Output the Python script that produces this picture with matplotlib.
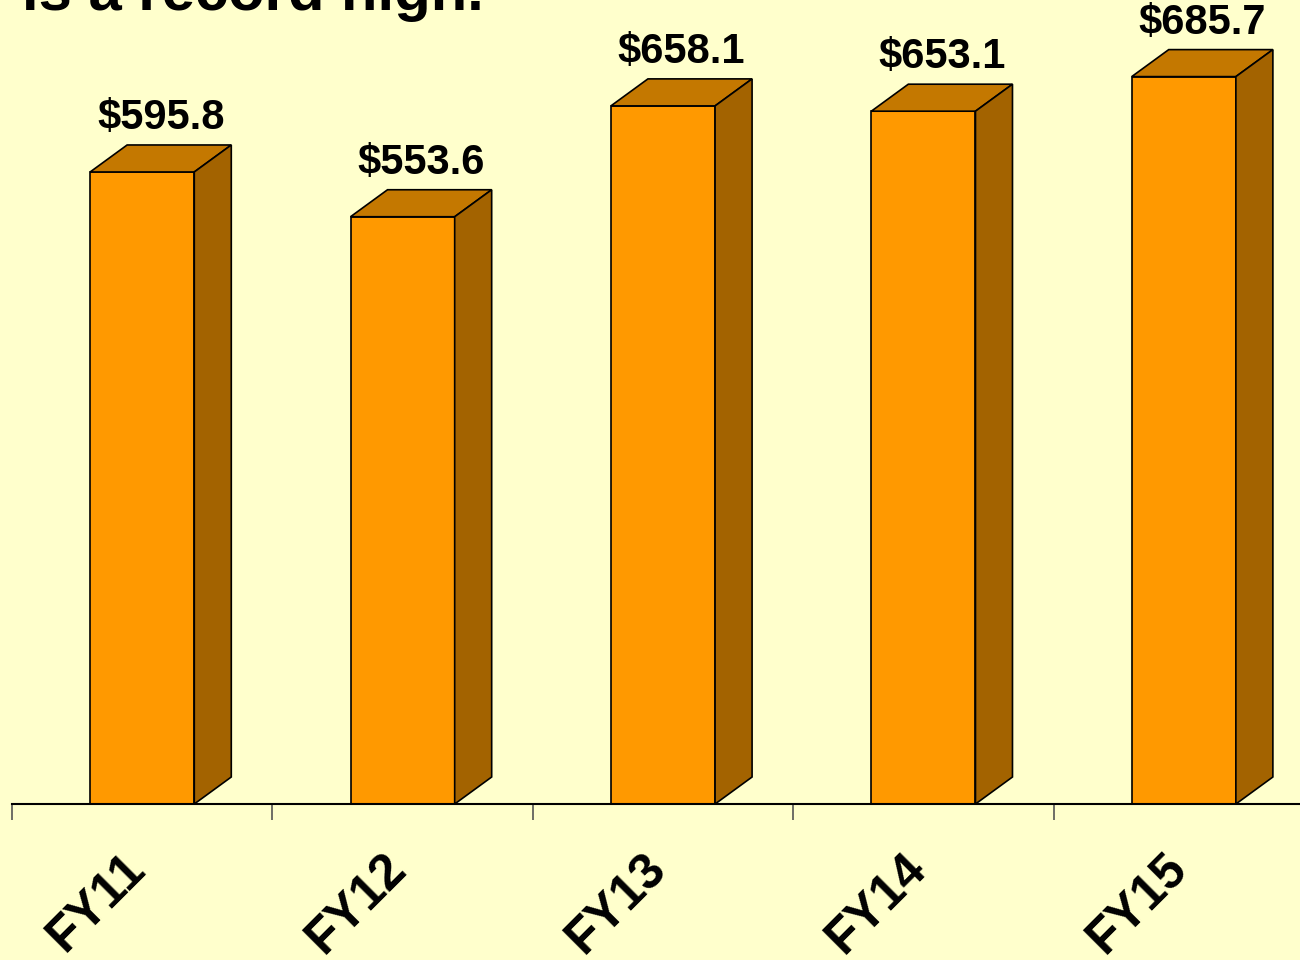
import matplotlib.pyplot as plt
from matplotlib.patches import Polygon
from matplotlib.transforms import ScaledTranslation

# data
years = ['FY11', 'FY12', 'FY13', 'FY14', 'FY15']
values = [595.8, 553.6, 658.1, 653.1, 685.7]
labels = ['$595.8', '$553.6', '$658.1', '$653.1', '$685.7']

plt.rcParams['font.family'] = ['Liberation Sans', 'DejaVu Sans']

bg = '#FFFFCC'
front_col = '#FF9900'
top_col = '#C47800'
side_col = '#A36300'

fig = plt.figure(figsize=(13, 9.6), dpi=100, facecolor=bg)
# axes run from pixel x=12 and past the right edge, baseline at y=804
ax = fig.add_axes([12 / 1300, 156 / 960, 1302 / 1300, 804 / 960])
ax.set_facecolor(bg)
ax.set_xlim(-0.5, 4.5)
ax.set_ylim(0, 804 / 1.0608)

w = 0.4
dx = 37 / 260.4
dy = 27 / 1.0608

for i, v in enumerate(values):
    ax.bar(i, v, width=w, color=front_col, edgecolor='black', linewidth=1.2, zorder=3)
    x0, x1 = i - w / 2, i + w / 2
    top = Polygon([(x0, v), (x1, v), (x1 + dx, v + dy), (x0 + dx, v + dy)],
                  closed=True, facecolor=top_col, edgecolor='black', linewidth=1.2, zorder=3)
    side = Polygon([(x1, 0), (x1 + dx, dy), (x1 + dx, v + dy), (x1, v)],
                   closed=True, facecolor=side_col, edgecolor='black', linewidth=1.2, zorder=3)
    ax.add_patch(top)
    ax.add_patch(side)
    ax.annotate(labels[i], (i + dx / 2, v + dy), xytext=(0, 5), textcoords='offset points',
                ha='center', va='bottom', fontsize=30, fontweight='bold')

for s in ['top', 'right', 'left']:
    ax.spines[s].set_visible(False)
ax.spines['bottom'].set_linewidth(1.5)
ax.spines['bottom'].set_zorder(4)
ax.set_yticks([])

# category boundaries as major ticks, names as minor tick labels
ax.set_xticks([-0.5, 0.5, 1.5, 2.5, 3.5, 4.5])
ax.set_xticklabels([])
ax.tick_params(axis='x', which='major', direction='out', length=11.5, width=1.2, color='#555555')
ax.set_xticks(range(len(years)), minor=True)
ax.set_xticklabels(years, minor=True, rotation=45, ha='right', va='center',
                   rotation_mode='anchor', fontsize=36, fontweight='bold')
ax.tick_params(axis='x', which='minor', length=0, pad=41)
for lab in ax.get_xticklabels(minor=True):
    lab.set_transform(lab.get_transform() + ScaledTranslation(-4 / 100, 0, fig.dpi_scale_trans))

fig.text(22 / 1300, 1 - 10 / 960, 'is a record high.', ha='left', va='baseline',
         fontsize=43, fontweight='bold')

fig.savefig('out.png', dpi=100, facecolor=bg)
